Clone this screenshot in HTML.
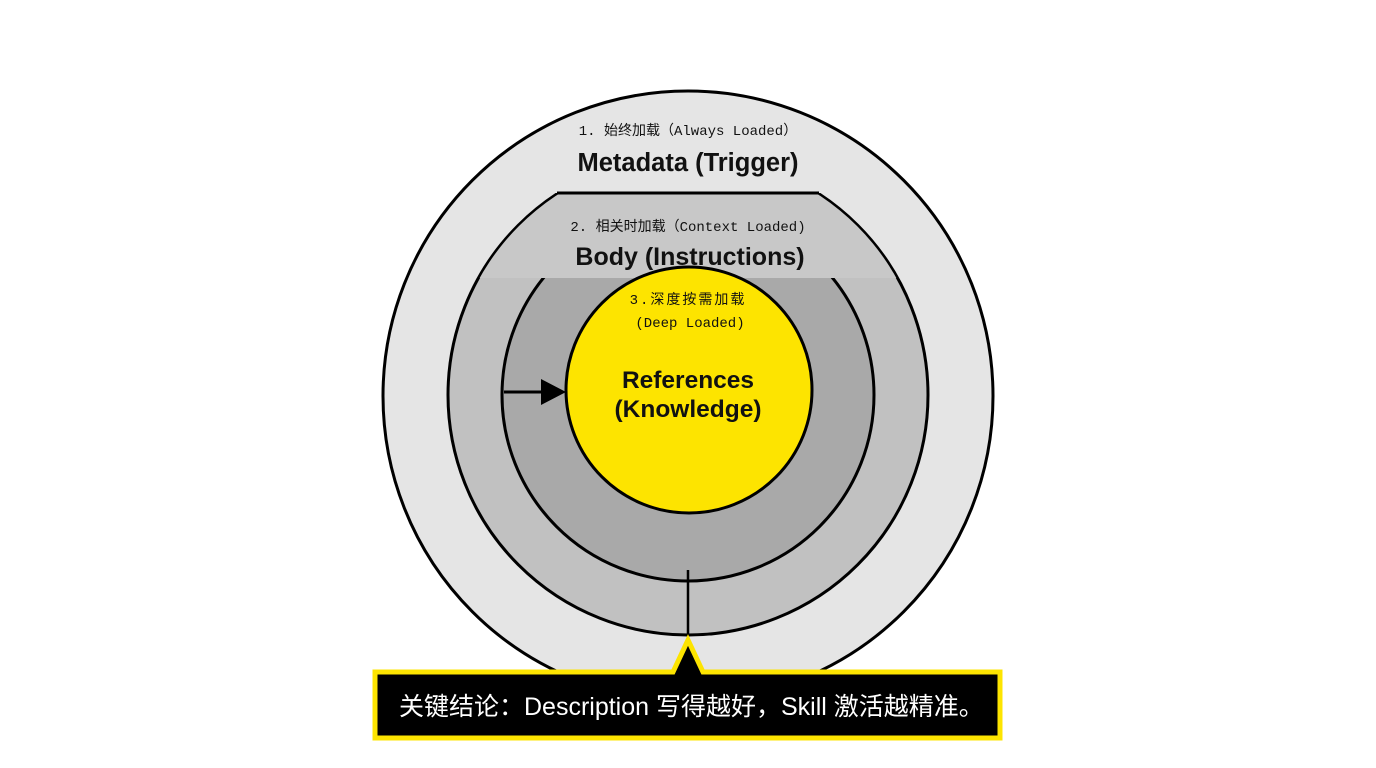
<!DOCTYPE html>
<html><head><meta charset="utf-8"><style>
html,body{margin:0;padding:0;background:#fff;}
svg{display:block;}
.m{font-family:"Liberation Mono","Noto Sans CJK SC",monospace;font-size:14px;fill:#111;}
.b{font-family:"Liberation Sans","Noto Sans CJK SC",sans-serif;font-weight:bold;fill:#111;}
</style></head><body>
<svg width="1376" height="768" viewBox="0 0 1376 768" xmlns="http://www.w3.org/2000/svg">
<defs>
<clipPath id="c2"><rect x="0" y="193" width="1376" height="600"/></clipPath>
<clipPath id="c3"><rect x="0" y="278" width="1376" height="600"/></clipPath>
<clipPath id="cc"><circle cx="688" cy="395" r="239"/></clipPath>
</defs>
<circle cx="688" cy="396" r="305" fill="#e5e5e5" stroke="#000" stroke-width="3"/>
<g clip-path="url(#c2)">
<circle cx="688" cy="395" r="240" fill="#c1c1c1" stroke="#000" stroke-width="3"/>
<rect x="440" y="193" width="500" height="85" fill="#c8c8c8" clip-path="url(#cc)"/>
</g>
<line x1="557" y1="193" x2="819" y2="193" stroke="#000" stroke-width="3"/>
<g clip-path="url(#c3)">
<circle cx="688" cy="395" r="186" fill="#a9a9a9" stroke="#000" stroke-width="3"/>
</g>
<line x1="688" y1="570" x2="688" y2="636" stroke="#000" stroke-width="2.5"/>
<line x1="504" y1="392" x2="545" y2="392" stroke="#000" stroke-width="3"/>
<polygon points="541,379 566,392 541,405" fill="#000"/>
<circle cx="689" cy="390" r="123" fill="#fde400" stroke="#000" stroke-width="3"/>
<text x="688" y="135" text-anchor="middle" class="m">1. 始终加载（Always Loaded）</text>
<text x="688" y="171" text-anchor="middle" class="b" font-size="25.5">Metadata (Trigger)</text>
<text x="688" y="231" text-anchor="middle" class="m">2. 相关时加载（Context Loaded)</text>
<text x="690" y="265" text-anchor="middle" class="b" font-size="25">Body (Instructions)</text>
<text x="688" y="304" text-anchor="middle" class="m" font-size="14" letter-spacing="2">3.深度按需加载</text>
<text x="690" y="327" text-anchor="middle" class="m" font-size="14">(Deep Loaded)</text>
<text x="688" y="388" text-anchor="middle" class="b" font-size="24.5">References</text>
<text x="688" y="417" text-anchor="middle" class="b" font-size="24.5">(Knowledge)</text>
<path d="M375,672 L673,672 L688,640 L703,672 L1000,672 L1000,738 L375,738 Z" fill="#000" stroke="#fde400" stroke-width="5" stroke-linejoin="miter"/>
<text x="399" y="715" font-family="Liberation Sans,'Noto Sans CJK SC',sans-serif" font-size="25" fill="#fff">关键结论：Description 写得越好，Skill 激活越精准。</text>
</svg>
</body></html>
